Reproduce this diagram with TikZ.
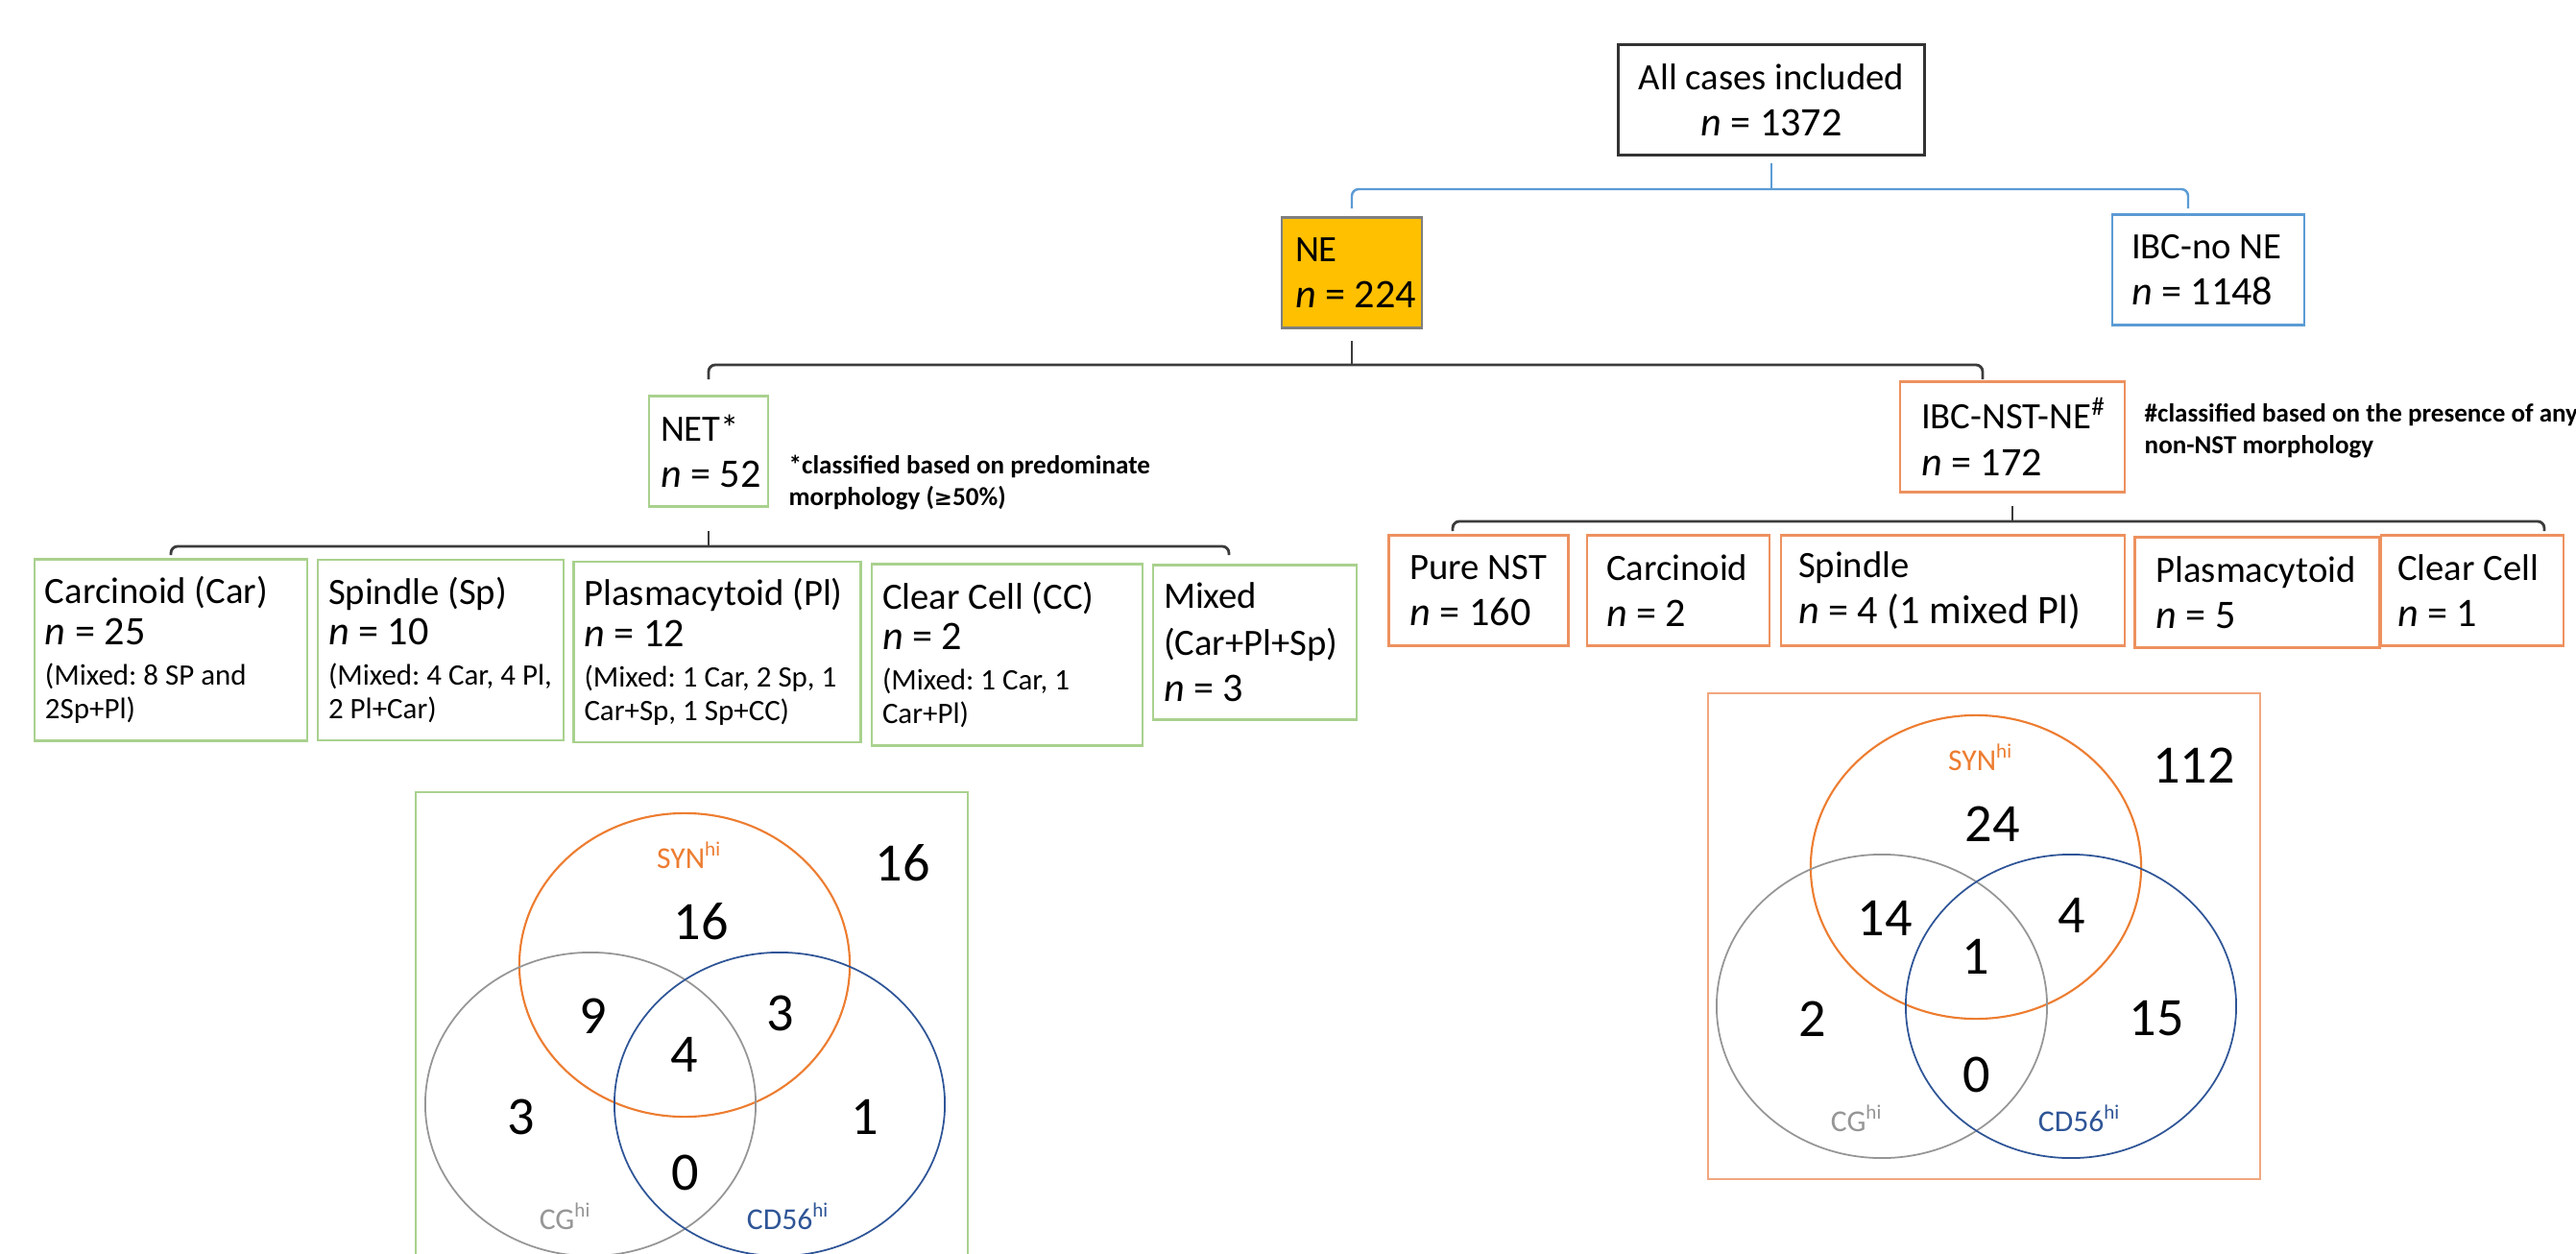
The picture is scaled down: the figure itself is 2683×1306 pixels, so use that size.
\documentclass[tikz,border=0pt]{standalone}
\usepackage{fontspec}
\setmainfont{Carlito}
\newfontfamily\symfont{DejaVu Sans}
\usetikzlibrary{calc}
\frenchspacing

\definecolor{netGreen}{RGB}{169,209,142}
\definecolor{nstOrange}{RGB}{237,145,95}
\definecolor{ibcBlue}{RGB}{91,155,213}
\definecolor{neFill}{RGB}{255,192,0}
\definecolor{neBorder}{RGB}{127,127,127}
\definecolor{barGray}{RGB}{60,60,60}
\definecolor{synOrange}{RGB}{237,125,49}
\definecolor{cgGray}{RGB}{150,150,150}
\definecolor{cdBlue}{RGB}{47,85,151}

\tikzset{
  box/.style={draw, line width=0.6pt, fill=white, inner sep=0pt, align=flush left,
    font=\fontsize{11}{13.8}\selectfont,
    execute at begin node={\leftskip=\cellpad\relax}},
  cell/.style n args={3}{/utils/exec={\pgfmathsetlengthmacro\cellmw{#1*0.01cm}%
      \pgfmathsetlengthmacro\cellmh{#2*0.01cm}%
      \pgfmathsetlengthmacro\cellpad{#3*0.01cm}},
    minimum width=\cellmw, minimum height=\cellmh, text width=\cellmw},
  netbox/.style={box, draw=netGreen, font=\fontsize{11}{12}\selectfont},
  nstbox/.style={box, draw=nstOrange},
  note/.style={inner sep=0pt, align=flush left, font=\fontsize{7.7}{9.4}\selectfont\bfseries},
  bluebar/.style={draw=ibcBlue, line width=0.7pt},
  blackbar/.style={draw=barGray, line width=0.8pt},
  synline/.style={draw=synOrange, line width=0.6pt},
  cgline/.style={draw=cgGray, line width=0.5pt},
  cdline/.style={draw=cdBlue, line width=0.5pt},
  vennnum/.style={inner sep=0pt, font=\fontsize{16}{18}\selectfont},
  setlabel/.style={inner sep=0pt, font=\fontsize{9}{10}\selectfont}
}

\newcommand{\ncount}[1]{{\fontsize{12}{12}\selectfont\textit{n}~=~#1}}
\newcommand{\mixnote}[1]{{\fontsize{8.8}{10}\selectfont #1}}

\newcommand{\treebar}[7]{
  % style, parent, left end, right end, bar level, end level, tick length
  \coordinate (barlvl) at (0,#5);
  \coordinate (endlvl) at (0,#6);
  \draw[#1] (#2.south |- barlvl) -- ++(0,-#7);
  \draw[#1, rounded corners=2pt] (#3 |- endlvl) -- (#3 |- barlvl) -- (#4 |- barlvl) -- (#4 |- endlvl);
}

\newcommand{\venn}[9]{
  % name, outside, SYN, SYN+CG, SYN+CD56, all, CG, CD56, CG+CD56
  \draw[synline] (0,0) ellipse (1.72cm and 1.58cm);
  \draw[cgline] (-98,145) ellipse (1.72cm and 1.58cm);
  \draw[cdline] (99,145) ellipse (1.72cm and 1.58cm);
  \node[setlabel, text=synOrange] (#1syn) at (5,-114) {SYN\textsuperscript{hi}};
  \node[setlabel, text=cgGray] (#1cg) at (-124,262) {CG\textsuperscript{hi}};
  \node[setlabel, text=cdBlue] (#1cd) at (108,262) {CD56\textsuperscript{hi}};
  \node[vennnum] (#1out) at (227,-106) {#2};
  \node[vennnum] (#1s) at (17,-45) {#3};
  \node[vennnum] (#1sg) at (-95,53) {#4};
  \node[vennnum] (#1sd) at (100,50) {#5};
  \node[vennnum] (#1sgd) at (0,93) {#6};
  \node[vennnum] (#1g) at (-170,158) {#7};
  \node[vennnum] (#1d) at (188,158) {#8};
  \node[vennnum] (#1gd) at (1,216) {#9};
}

\begin{document}
\begin{tikzpicture}[x=0.01cm, y=-0.01cm]
  \path[use as bounding box, fill=white] (0,0) rectangle (2683,1306);

  \node[box, draw=black!80, cell={319}{115}{0}, execute at begin node={\centering}] (all) at (1845,104) {All cases included\\ \ncount{1372}};

  \node[box, fill=neFill, draw=neBorder, cell={146}{115}{14}] (ne) at (1408,284) {NE\\ \ncount{224}};
  \node[box, draw=ibcBlue, cell={200}{115}{20}] (nne) at (2300,281) {IBC-no NE\\ \ncount{1148}};

  \node[box, draw=netGreen, cell={124}{115}{12}] (net) at (738,470) {NET*\\ \ncount{52}};
  \node[note, anchor=west] (netnote) at (821,503) {*classified based on predominate\\ morphology ({\symfont\fontsize{6.5}{9}\selectfont ≥}50\%)};
  \node[nstbox, cell={234}{115}{22}] (nst) at (2096,455) {IBC-NST-NE\textsuperscript{\#}\\ \ncount{172}};
  \node[note, anchor=west] (nstnote) at (2233,449) {\#classified based on the presence of any\\ non-NST morphology};

  \node[netbox, cell={284}{189}{11}] (car) at (178,677) {Carcinoid (Car)\\ \ncount{25}\\ \mixnote{(Mixed: 8 SP and}\\[-2pt] \mixnote{2Sp+Pl)}};
  \node[netbox, cell={256}{188}{11}] (spn) at (459,677) {Spindle (Sp)\\ \ncount{10}\\ \mixnote{(Mixed: 4 Car, 4 Pl,}\\[-2pt] \mixnote{2 Pl+Car)}};
  \node[netbox, cell={299}{188}{11}] (pla) at (747,679) {Plasmacytoid (Pl)\\ \ncount{12}\\ \mixnote{(Mixed: 1 Car, 2 Sp, 1}\\[-2pt] \mixnote{Car+Sp, 1 Sp+CC)}};
  \node[netbox, cell={282}{189}{11}] (clc) at (1049,682) {Clear Cell (CC)\\ \ncount{2}\\ \mixnote{(Mixed: 1 Car, 1}\\[-2pt] \mixnote{Car+Pl)}};
  \node[box, draw=netGreen, cell={212}{161}{11}] (mix) at (1307,669) {Mixed\\ (Car+Pl+Sp)\\ \ncount{3}};

  \node[nstbox, cell={187}{115}{22}] (pns) at (1540,615) {Pure NST\\ \ncount{160}};
  \node[nstbox, cell={190}{115}{20}] (crn) at (1748,615) {Carcinoid\\ \ncount{2}};
  \node[nstbox, cell={358}{115}{18}] (spd) at (2034,615) {Spindle\\ \ncount{4 (1 mixed Pl)}};
  \node[nstbox, cell={255}{115}{22}] (plm) at (2351,617) {Plasmacytoid\\ \ncount{5}};
  \node[nstbox, cell={190}{115}{17}] (cln) at (2575,615) {Clear Cell\\ \ncount{1}};

  \coordinate (nneR) at ($(nne.north)+(-21,0)$);
  \coordinate (nstL) at ($(nst.north)+(-31,0)$);
  \coordinate (mixR) at ($(mix.north)+(-27,0)$);
  \coordinate (pnsL) at ($(pns.north)+(-27,0)$);
  \coordinate (clnR) at ($(cln.north)+(75,0)$);

  \treebar{bluebar}{all}{ne.north}{nneR}{197}{217}{27}
  \treebar{blackbar}{ne}{net.north}{nstL}{380}{395}{25}
  \treebar{blackbar}{net}{car.north}{mixR}{569}{578}{16}
  \treebar{blackbar}{nst}{pnsL}{clnR}{543}{553}{16}

  \draw[netGreen, line width=0.8pt] (433,825) rectangle (1008,1340);
  \begin{scope}[shift={(713,1005)}]
    \venn{a}{16}{16}{9}{3}{4}{3}{1}{0}
  \end{scope}

  \draw[nstOrange!80, line width=0.8pt] (1779,722) rectangle (2354,1228);
  \begin{scope}[shift={(2058,903)}]
    \venn{b}{112}{24}{14}{4}{1}{2}{15}{0}
  \end{scope}
\end{tikzpicture}
\end{document}
